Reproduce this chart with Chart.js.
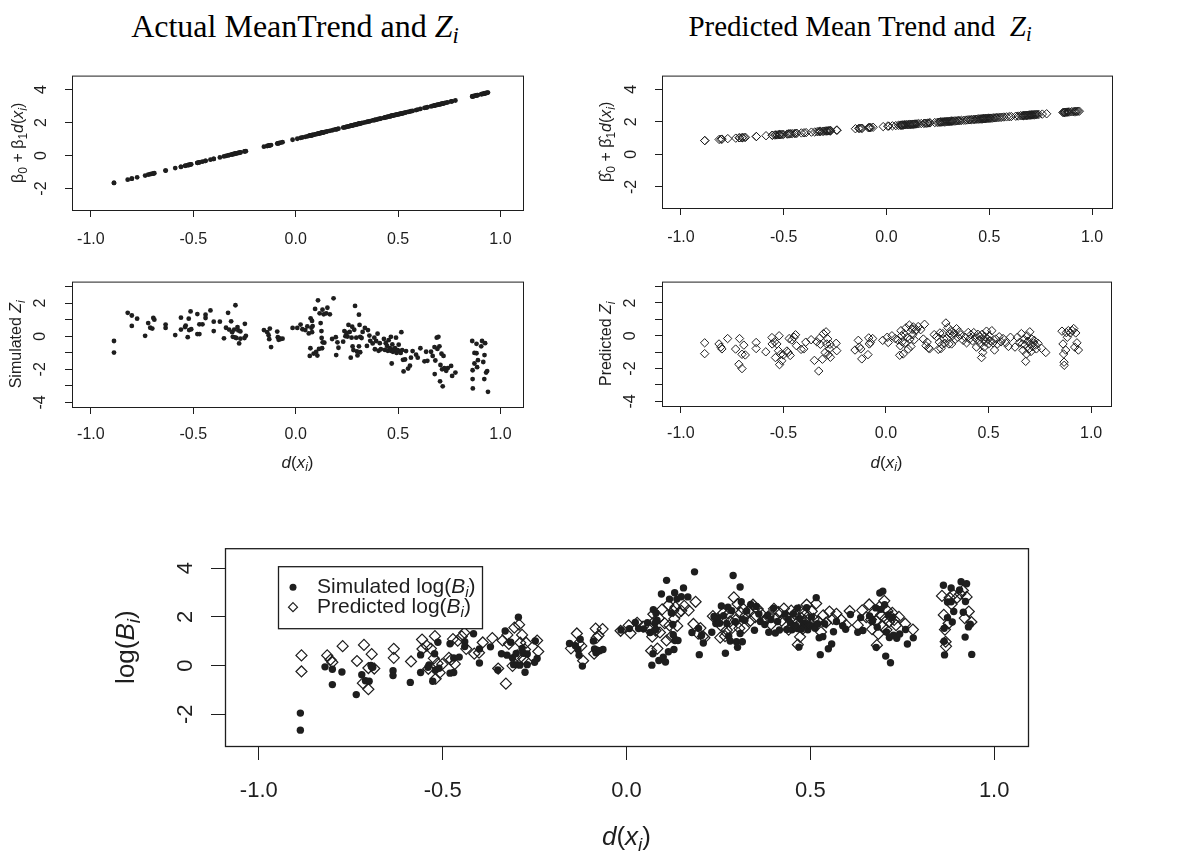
<!DOCTYPE html>
<html>
<head>
<meta charset="utf-8">
<script src="https://cdn.jsdelivr.net/npm/chart.js@4.4.0/dist/chart.umd.min.js"></script>
<style>
  body { margin: 0; background: #fff; width: 1178px; height: 857px; position: relative; overflow: hidden; }
  canvas { position: absolute; }
  .ttl { position: absolute; font-family: "Liberation Serif", "Times New Roman", serif; color: #000;
         white-space: nowrap; line-height: 34px; transform: translateX(-50%); }
  .ttl sub { font-size: 0.7em; vertical-align: -0.25em; line-height: 0; }
</style>
</head>
<body>
<div class="ttl" style="left:295px;top:9px;font-size:32px">Actual MeanTrend and <i>Z<sub>i</sub></i></div>
<div class="ttl" style="left:860px;top:9px;font-size:29px">Predicted Mean Trend and &nbsp;<i>Z<sub>i</sub></i></div>

<canvas id="p1" width="590" height="210" style="left:0;top:50px"></canvas>
<canvas id="p2" width="588" height="210" style="left:590px;top:50px"></canvas>
<canvas id="p3" width="590" height="225" style="left:0;top:255px"></canvas>
<canvas id="p4" width="588" height="225" style="left:590px;top:255px"></canvas>
<canvas id="p5" width="1000" height="337" style="left:90px;top:520px"></canvas>

<script>
// tick positions
const xTickVals = [-1, -0.5, 0, 0.5, 1];
const yTicksTop = [-2, 0, 2, 4];
const yTicksMid = [-4, -3, -2, -1, 0, 1, 2, 3];
const yLabelsMid = [-4, -2, 0, 2];

// d(x_i) of the simulated points, with the simulated Z_i, the true mean trend and log(B_i)
const xSim = [
  -0.887,-0.887,-0.82,-0.80,-0.80,-0.774,-0.735,-0.72,-0.71,-0.70,
  -0.695,-0.69,-0.635,-0.635,-0.588,-0.56,-0.56,-0.54,-0.537,-0.527,
  -0.522,-0.52,-0.513,-0.51,-0.48,-0.48,-0.47,-0.47,-0.455,-0.44,
  -0.44,-0.416,-0.40,-0.40,-0.37,-0.35,-0.34,-0.33,-0.325,-0.315,
  -0.31,-0.307,-0.30,-0.297,-0.294,-0.29,-0.284,-0.28,-0.276,-0.27,
  -0.27,-0.25,-0.248,-0.243,-0.155,-0.139,-0.132,-0.129,-0.126,-0.12,
  -0.09,-0.087,-0.083,-0.08,-0.073,-0.064,-0.015,0.008,0.024,0.033,
  0.047,0.057,0.064,0.069,0.072,0.073,0.077,0.08,0.08,0.083,
  0.088,0.095,0.10,0.106,0.109,0.114,0.117,0.122,0.126,0.127,
  0.129,0.131,0.132,0.137,0.14,0.149,0.155,0.167,0.178,0.185,
  0.196,0.198,0.204,0.209,0.232,0.238,0.243,0.248,0.253,0.258,
  0.264,0.269,0.273,0.276,0.278,0.282,0.286,0.29,0.296,0.299,
  0.302,0.309,0.309,0.312,0.315,0.315,0.322,0.327,0.338,0.348,
  0.353,0.36,0.364,0.376,0.384,0.387,0.393,0.40,0.405,0.411,
  0.416,0.431,0.436,0.44,0.446,0.45,0.454,0.46,0.465,0.465,
  0.469,0.472,0.475,0.48,0.485,0.49,0.493,0.498,0.503,0.508,
  0.513,0.516,0.52,0.524,0.527,0.534,0.539,0.549,0.558,0.563,
  0.571,0.588,0.596,0.609,0.629,0.637,0.643,0.661,0.669,0.678,
  0.679,0.682,0.689,0.692,0.697,0.702,0.705,0.707,0.712,0.715,
  0.718,0.722,0.726,0.735,0.743,0.759,0.764,0.78,0.862,0.864,
  0.864,0.865,0.873,0.873,0.883,0.883,0.886,0.89,0.906,0.91,
  0.916,0.921,0.922,0.925,0.93,0.935,0.939
];
const zSim = [
  -0.29,-0.99,1.41,1.25,0.62,1.06,0.02,0.79,0.51,0.46,
  1.10,1.0,0.70,0.50,0.07,1.12,0.40,0.55,0.64,-0.06,
  1.06,0.37,1.50,0.42,1.34,0.13,0.13,0.72,0.72,1.30,
  1.10,1.56,0.88,0.31,0.88,-0.13,0.51,1.41,0.40,0.90,
  0.24,-0.04,0.40,-0.07,1.87,-0.11,0.55,0.35,-0.44,-0.15,
  0.29,-0.11,0.75,0.02,0.37,0.24,0.06,-0.18,0.46,-0.66,
  0.28,-0.06,-0.22,-0.13,-0.17,-0.15,0.50,0.50,0.70,0.42,
  0.37,0.59,0.17,-1.19,-0.73,1.08,0.51,0.24,0.92,0.61,
  -1.05,1.65,-0.95,-1.17,2.17,-0.77,1.38,0.79,0.31,-0.11,
  -0.73,1.60,-0.37,1.32,-0.39,1.38,1.72,1.32,-0.17,2.29,
  -0.06,-1.14,-0.37,-0.70,-0.33,0.31,0.0,0.20,-0.02,0.68,
  0.26,-1.30,-0.09,0.57,-0.62,-0.84,0.39,1.83,-0.09,-0.92,
  -1.16,-0.61,1.30,0.68,-0.04,-0.97,-0.11,0.26,0.50,-0.59,
  0.37,0.04,-0.28,-0.44,-0.09,-0.79,-0.29,0.15,-0.88,-0.42,
  -0.79,-0.17,-0.83,-0.42,-0.59,-0.88,-0.24,-0.73,-0.88,-0.04,
  -1.65,-0.50,-0.94,-0.79,-0.73,-0.09,-1.01,-0.84,-0.51,-0.90,
  -1.01,0.24,-0.84,-1.43,-2.13,-1.41,-0.90,-1.96,-1.78,-1.30,
  -0.90,-1.12,-1.30,-0.73,-1.52,-0.94,-1.49,-0.94,-1.19,-0.66,
  -2.29,-1.47,-0.09,-0.77,-0.04,-0.61,-2.73,-1.74,-1.06,-2.0,
  -3.03,-1.19,-1.93,-2.09,-1.93,-1.80,-2.40,-2.20,-0.29,-2.06,
  -2.59,-3.16,-1.01,-1.65,-1.03,-0.46,-1.87,-1.45,-0.61,-0.29,
  -1.56,-2.59,-1.14,-0.42,-2.20,-2.11,-3.36
];
const meanTrue = [
  -1.66,-1.66,-1.46,-1.40,-1.40,-1.32,-1.21,-1.16,-1.13,-1.10,
  -1.09,-1.07,-0.91,-0.91,-0.76,-0.68,-0.68,-0.62,-0.61,-0.58,
  -0.57,-0.56,-0.54,-0.53,-0.44,-0.44,-0.41,-0.41,-0.37,-0.32,
  -0.32,-0.25,-0.20,-0.20,-0.11,-0.05,-0.02,0.01,0.03,0.06,
  0.07,0.08,0.10,0.11,0.12,0.13,0.15,0.16,0.17,0.19,
  0.19,0.25,0.26,0.27,0.54,0.58,0.60,0.61,0.62,0.64,
  0.73,0.74,0.75,0.76,0.78,0.81,0.96,1.02,1.07,1.10,
  1.14,1.17,1.19,1.21,1.22,1.22,1.23,1.24,1.24,1.25,
  1.26,1.29,1.30,1.32,1.33,1.34,1.35,1.37,1.38,1.38,
  1.39,1.39,1.40,1.41,1.42,1.45,1.47,1.50,1.53,1.56,
  1.59,1.59,1.61,1.63,1.70,1.71,1.73,1.74,1.76,1.77,
  1.79,1.81,1.82,1.83,1.83,1.85,1.86,1.87,1.89,1.90,
  1.91,1.93,1.93,1.94,1.95,1.95,1.97,1.98,2.01,2.04,
  2.06,2.08,2.09,2.13,2.15,2.16,2.18,2.20,2.22,2.23,
  2.25,2.29,2.31,2.32,2.34,2.35,2.36,2.38,2.40,2.40,
  2.41,2.42,2.43,2.44,2.46,2.47,2.48,2.49,2.51,2.52,
  2.54,2.55,2.56,2.57,2.58,2.60,2.62,2.65,2.67,2.69,
  2.71,2.76,2.79,2.83,2.89,2.91,2.93,2.98,3.01,3.03,
  3.04,3.05,3.07,3.08,3.09,3.11,3.12,3.12,3.14,3.15,
  3.15,3.17,3.18,3.21,3.23,3.28,3.29,3.34,3.59,3.59,
  3.59,3.60,3.62,3.62,3.65,3.65,3.66,3.67,3.72,3.73,
  3.75,3.76,3.77,3.78,3.79,3.81,3.82
];
const logBSim = [
  -1.95,-2.65,-0.05,-0.15,-0.78,-0.26,-1.19,-0.37,-0.62,-0.64,
  0.01,-0.07,-0.21,-0.41,-0.69,0.44,-0.28,-0.07,0.03,-0.64,
  0.49,-0.19,0.96,-0.11,0.90,-0.31,-0.28,0.31,0.35,0.98,
  0.78,1.31,0.68,0.11,0.77,-0.18,0.49,1.42,0.43,0.96,
  0.31,0.04,0.50,0.04,1.99,0.02,0.70,0.51,-0.27,0.04,
  0.48,0.14,1.01,0.29,0.91,0.82,0.66,0.43,1.08,-0.02,
  1.01,0.68,0.53,0.63,0.61,0.66,1.46,1.52,1.77,1.52,
  1.51,1.76,1.36,0.02,0.49,2.30,1.74,1.48,2.16,1.86,
  0.21,2.94,0.35,0.15,3.50,0.57,2.73,2.16,1.69,1.27,
  0.66,2.99,1.03,2.73,1.03,2.83,3.19,2.82,1.36,3.85,
  1.53,0.45,1.24,0.93,1.37,2.02,1.73,1.94,1.74,2.45,
  2.05,0.51,1.73,2.40,1.21,1.01,2.25,3.70,1.80,0.98,
  0.75,1.32,3.23,2.62,1.91,0.98,1.86,2.24,2.51,1.45,
  2.43,2.12,1.81,1.69,2.06,1.37,1.89,2.35,1.34,1.81,
  1.46,2.12,1.48,1.90,1.75,1.47,2.12,1.65,1.52,2.36,
  0.76,1.92,1.49,1.65,1.73,2.38,1.47,1.65,2.00,1.62,
  1.53,2.79,1.72,1.14,0.45,1.19,1.72,0.69,0.89,1.39,
  1.81,1.64,1.49,2.10,1.37,1.97,1.44,2.04,1.82,2.37,
  0.75,1.58,2.98,2.31,3.05,2.50,0.39,1.38,2.08,1.15,
  0.12,1.98,1.25,1.12,1.30,1.48,0.89,1.14,3.30,1.53,
  1.00,0.44,2.61,1.97,2.62,3.19,1.79,2.22,3.11,3.44,
  2.19,1.17,2.63,3.36,1.59,1.70,0.46
];

// d(x_i) of the predicted points, with the predicted Z_i, the fitted mean trend and log(B_i)
const xPred = [
  -0.884,-0.884,-0.814,-0.805,-0.80,-0.772,-0.733,-0.717,-0.714,-0.702,
  -0.702,-0.693,-0.686,-0.633,-0.633,-0.586,-0.556,-0.555,-0.543,-0.539,
  -0.532,-0.524,-0.521,-0.519,-0.514,-0.508,-0.501,-0.483,-0.477,-0.472,
  -0.467,-0.459,-0.448,-0.441,-0.436,-0.414,-0.401,-0.391,-0.365,-0.349,
  -0.337,-0.328,-0.324,-0.32,-0.31,-0.305,-0.297,-0.292,-0.289,-0.284,
  -0.281,-0.276,-0.273,-0.271,-0.243,-0.24,-0.151,-0.135,-0.13,-0.123,
  -0.118,-0.088,-0.084,-0.081,-0.076,-0.065,-0.016,0.006,0.011,0.029,
  0.045,0.058,0.067,0.07,0.073,0.076,0.079,0.084,0.088,0.091,
  0.097,0.104,0.109,0.114,0.117,0.122,0.127,0.13,0.133,0.138,
  0.143,0.149,0.157,0.169,0.182,0.188,0.195,0.201,0.208,0.212,
  0.235,0.247,0.255,0.26,0.263,0.268,0.273,0.277,0.282,0.287,
  0.292,0.297,0.302,0.307,0.311,0.316,0.32,0.324,0.331,0.337,
  0.344,0.35,0.357,0.365,0.376,0.386,0.393,0.401,0.407,0.414,
  0.422,0.428,0.435,0.441,0.448,0.453,0.457,0.461,0.466,0.469,
  0.472,0.475,0.479,0.482,0.485,0.49,0.495,0.50,0.504,0.509,
  0.516,0.522,0.529,0.535,0.543,0.552,0.561,0.571,0.584,0.597,
  0.607,0.629,0.641,0.652,0.66,0.665,0.668,0.673,0.678,0.681,
  0.685,0.688,0.693,0.697,0.701,0.704,0.707,0.71,0.714,0.719,
  0.723,0.728,0.733,0.741,0.758,0.779,0.858,0.863,0.866,0.868,
  0.869,0.876,0.879,0.884,0.889,0.899,0.908,0.915,0.92,0.925,
  0.931,0.938
];
const zPred = [
  -0.43,-1.09,-0.50,-0.69,-0.80,-0.17,-0.81,-1.74,-0.17,-2.0,
  -1.13,-0.57,-1.17,-0.41,-0.78,-0.98,-0.11,-0.50,-0.37,-1.33,
  -0.50,-0.91,0.0,-1.76,-1.13,-1.52,-1.17,-0.93,-1.02,-0.17,
  -1.20,-0.26,-0.09,0.06,-0.61,-0.83,-0.80,-0.39,-0.24,-1.50,
  -0.37,-2.15,-0.15,-0.52,-1.43,0.13,-1.02,0.24,-0.50,-0.19,
  -1.15,-0.80,-0.52,-1.31,-0.46,-0.91,-0.87,-0.28,-0.69,-0.80,
  -1.41,-1.15,-0.13,-0.50,-0.41,-0.17,-0.28,-0.09,-0.41,0.0,
  -0.17,-0.26,-1.19,-0.61,0.31,0.0,-0.37,-1.11,0.13,-0.46,
  0.48,-0.09,-0.81,0.65,-0.20,-0.65,0.39,0.06,0.54,-0.24,
  0.31,0.37,0.56,0.37,-0.20,0.70,-0.61,-0.39,-0.74,-0.80,
  0.07,-0.06,-0.83,-0.39,0.17,-0.78,-0.54,0.13,-0.19,-0.46,
  0.78,-0.15,0.50,-0.50,0.13,0.31,-0.50,0.0,0.17,-0.22,
  0.43,-0.09,0.24,0.06,-0.28,-0.09,-0.43,0.20,-0.20,0.06,
  -0.31,0.19,-0.13,-0.69,0.09,-0.28,-0.06,-0.50,-1.33,0.09,
  -1.02,-0.24,-0.69,-0.06,-0.37,0.28,-0.19,-0.50,0.0,-0.31,
  0.31,-0.43,-0.87,-0.20,-0.50,-0.06,-0.37,-0.17,-0.43,-0.65,
  -0.09,-0.69,-0.09,-0.39,0.13,-0.50,-0.89,-0.22,-0.56,-1.56,
  -1.11,0.0,-0.33,-0.80,0.24,-0.50,-0.96,-0.19,-0.65,-0.43,
  -0.28,-0.57,-0.80,-0.46,-0.76,-1.02,0.28,-0.50,-1.11,-1.61,
  -1.80,-0.87,0.19,-0.09,0.31,0.17,0.31,0.44,-0.69,0.17,
  -0.43,-0.87
];
const meanPred = [
  0.85,0.85,0.92,0.93,0.94,0.97,1.00,1.02,1.02,1.03,
  1.03,1.04,1.05,1.10,1.10,1.15,1.18,1.18,1.19,1.20,
  1.20,1.21,1.21,1.22,1.22,1.23,1.23,1.25,1.26,1.26,
  1.27,1.28,1.29,1.29,1.30,1.32,1.33,1.34,1.37,1.38,
  1.40,1.41,1.41,1.41,1.42,1.43,1.44,1.44,1.44,1.45,
  1.45,1.46,1.46,1.46,1.49,1.49,1.58,1.60,1.60,1.61,
  1.61,1.64,1.65,1.65,1.65,1.67,1.71,1.74,1.74,1.76,
  1.77,1.79,1.80,1.80,1.80,1.81,1.81,1.81,1.82,1.82,
  1.83,1.83,1.84,1.84,1.85,1.85,1.86,1.86,1.86,1.87,
  1.87,1.88,1.89,1.90,1.91,1.92,1.92,1.93,1.94,1.94,
  1.96,1.97,1.98,1.99,1.99,1.99,2.00,2.00,2.01,2.01,
  2.02,2.02,2.03,2.03,2.04,2.04,2.05,2.05,2.06,2.06,
  2.07,2.08,2.08,2.09,2.10,2.11,2.12,2.13,2.13,2.14,
  2.15,2.15,2.16,2.17,2.17,2.18,2.18,2.19,2.19,2.19,
  2.20,2.20,2.20,2.21,2.21,2.22,2.22,2.23,2.23,2.23,
  2.24,2.25,2.25,2.26,2.27,2.28,2.29,2.30,2.31,2.32,
  2.33,2.35,2.36,2.38,2.38,2.39,2.39,2.40,2.40,2.40,
  2.41,2.41,2.42,2.42,2.42,2.43,2.43,2.43,2.44,2.44,
  2.45,2.45,2.46,2.46,2.48,2.50,2.58,2.58,2.59,2.59,
  2.59,2.60,2.60,2.61,2.61,2.62,2.63,2.64,2.64,2.65,
  2.65,2.66
];
const logBPred = [
  0.42,-0.24,0.42,0.24,0.14,0.80,0.19,-0.72,0.85,-0.97,
  -0.10,0.47,-0.12,0.69,0.32,0.17,1.07,0.68,0.82,-0.13,
  0.70,0.30,1.21,-0.54,0.09,-0.29,0.06,0.32,0.24,1.09,
  0.07,1.02,1.20,1.35,0.69,0.49,0.53,0.95,1.13,-0.12,
  1.03,-0.74,1.26,0.89,-0.01,1.56,0.42,1.68,0.94,1.26,
  0.30,0.66,0.94,0.15,1.03,0.58,0.71,1.32,0.91,0.81,
  0.20,0.49,1.52,1.15,1.24,1.50,1.43,1.65,1.33,1.76,
  1.60,1.53,0.61,1.19,2.11,1.81,1.44,0.70,1.95,1.36,
  2.31,1.74,1.03,2.49,1.65,1.20,2.25,1.92,2.40,1.63,
  2.18,2.25,2.45,2.27,1.71,2.62,1.31,1.54,1.20,1.14,
  2.03,1.91,1.15,1.60,2.16,1.21,1.46,2.13,1.82,1.55,
  2.80,1.87,2.53,1.53,2.17,2.35,1.55,2.05,2.23,1.84,
  2.50,1.99,2.32,2.15,1.82,2.02,1.69,2.33,1.93,2.20,
  1.84,2.34,2.03,1.48,2.26,1.90,2.12,1.69,0.86,2.28,
  1.18,1.96,1.51,2.15,1.84,2.50,2.03,1.73,2.23,1.92,
  2.55,1.82,1.38,2.06,1.77,2.22,1.92,2.13,1.88,1.67,
  2.24,1.66,2.27,1.99,2.51,1.89,1.50,2.18,1.84,0.84,
  1.30,2.41,2.09,1.62,2.66,1.93,1.47,2.24,1.79,2.01,
  2.17,1.88,1.66,2.00,1.72,1.48,2.86,2.08,1.48,0.98,
  0.79,1.73,2.79,2.52,2.92,2.79,2.94,3.08,1.95,2.82,
  2.22,1.79
];

const FONT = '"Liberation Sans", "DejaVu Sans", Arial, sans-serif';
const INK = '#1e1e1e';

function pts(xs, ys) {
  return xs.map((x, i) => ({ x: x, y: ys[i] }));
}

// text with italic parts and subscripts, the way R's plotmath sets it
function partFont(p, size) {
  const s = p.sub ? Math.round(size * 0.72) : size;
  return (p.it ? 'italic ' : '') + s + 'px ' + FONT;
}
function richWidth(ctx, parts, size) {
  let w = 0;
  parts.forEach(p => { ctx.font = partFont(p, size); w += ctx.measureText(p.t).width; });
  return w;
}
function drawRich(ctx, parts, x, y, size, rot, align) {
  ctx.save();
  ctx.translate(x, y);
  ctx.rotate(rot);
  ctx.textBaseline = 'middle';
  ctx.textAlign = 'left';
  ctx.fillStyle = INK;
  let cx = align === 'left' ? 0 : -richWidth(ctx, parts, size) / 2;
  parts.forEach(p => {
    ctx.font = partFont(p, size);
    ctx.fillText(p.t, cx, p.sub ? size * 0.28 : 0);
    cx += ctx.measureText(p.t).width;
  });
  ctx.restore();
}

const dxParts = [{ t: 'd', it: true }, { t: '(' }, { t: 'x', it: true }, { t: 'i', it: true, sub: true }, { t: ')' }];

// frame round the plotting region
const boxPlugin = {
  id: 'frame',
  afterDraw(chart, args, o) {
    const a = chart.chartArea, c = chart.ctx;
    c.save();
    c.strokeStyle = INK;
    c.lineWidth = o.width || 1;
    c.strokeRect(a.left + 0.5, a.top + 0.5, a.right - a.left, a.bottom - a.top);
    c.restore();
  }
};

const richPlugin = {
  id: 'rich',
  afterDraw(chart, args, o) {
    const a = chart.chartArea;
    if (o.y) drawRich(chart.ctx, o.y, o.yX, (a.top + a.bottom) / 2, o.ySize, -Math.PI / 2);
    if (o.x) drawRich(chart.ctx, o.x, (a.left + a.right) / 2, chart.height - o.xB, o.xSize, 0);
  }
};

const legendPlugin = {
  id: 'boxLegend',
  afterDraw(chart, args, o) {
    if (!o.items) return;
    const c = chart.ctx, a = chart.chartArea;
    const L = a.left + o.dx, T = a.top + o.dy;
    c.save();
    c.fillStyle = '#fff';
    c.fillRect(L, T, o.w, o.h);
    c.strokeStyle = INK;
    c.lineWidth = 1.3;
    c.strokeRect(L + 0.5, T + 0.5, o.w, o.h);
    o.items.forEach((it, i) => {
      const y = T + o.row0 + i * o.rowH, sx = L + o.symX;
      c.beginPath();
      if (it.style === 'circle') {
        c.arc(sx, y, it.r, 0, Math.PI * 2);
        c.fillStyle = INK;
        c.fill();
      } else {
        c.moveTo(sx, y - it.r); c.lineTo(sx + it.r, y); c.lineTo(sx, y + it.r); c.lineTo(sx - it.r, y);
        c.closePath();
        c.lineWidth = 1.2;
        c.stroke();
      }
      drawRich(c, it.parts, L + o.textX, y, o.size, 0, 'left');
    });
    c.restore();
  }
};

function dots(data, r, label) {
  return { label: label, data: data, pointStyle: 'circle', pointRadius: r, pointBackgroundColor: INK,
           pointBorderWidth: 0, order: 1 };
}
function diamonds(data, r, fill, label, bw) {
  return { label: label, data: data, pointStyle: 'rectRot', pointRadius: r, pointBackgroundColor: fill,
           pointBorderColor: INK, pointBorderWidth: bw || 1, order: 0 };
}

function panel(id, p) {
  const tickGrid = { drawOnChartArea: false, drawTicks: true, tickLength: p.tick, color: INK, lineWidth: 1 };
  new Chart(document.getElementById(id), {
    type: 'scatter',
    data: { datasets: p.datasets },
    options: {
      responsive: false,
      animation: false,
      events: [],
      layout: { padding: p.pad },
      plugins: {
        legend: { display: false },
        tooltip: { enabled: false },
        frame: { width: p.frame || 1 },
        rich: p.rich,
        boxLegend: p.legend || {}
      },
      scales: {
        x: {
          type: 'linear', min: p.xMin, max: p.xMax,
          afterBuildTicks: s => { s.ticks = xTickVals.map(v => ({ value: v })); },
          afterFit: s => { s.height = p.xH; },
          grid: tickGrid,
          border: { display: false },
          ticks: { autoSkip: false, maxRotation: 0, minRotation: 0, padding: p.xPad, color: INK,
                   font: { family: FONT, size: p.font }, callback: v => v.toFixed(1) }
        },
        y: {
          type: 'linear', min: p.yMin, max: p.yMax,
          afterBuildTicks: s => { s.ticks = p.yTicks.map(v => ({ value: v })); },
          afterFit: s => { s.width = p.yW; },
          grid: tickGrid,
          border: { display: false },
          ticks: { autoSkip: false, minRotation: 90, maxRotation: 90, crossAlign: 'center', padding: p.yPad,
                   color: INK, font: { family: FONT, size: p.font },
                   callback: v => p.yLabels.includes(v) ? String(v) : '' }
        }
      }
    },
    plugins: [boxPlugin, richPlugin, legendPlugin]
  });
}

panel('p1', {
  pad: { left: 0, top: 20, right: 67, bottom: 0 }, yW: 72, xH: 50,
  xMin: -1.092, xMax: 1.11, yMin: -3.3, yMax: 4.85, yTicks: yTicksTop, yLabels: yTicksTop,
  font: 16, tick: 7, xPad: 13, yPad: 16,
  rich: { y: [{ t: 'β' }, { t: '0', sub: true }, { t: ' + β' }, { t: '1', sub: true }, { t: 'd', it: true }, { t: '(' },
              { t: 'x', it: true }, { t: 'i', it: true, sub: true }, { t: ')' }], yX: 19, ySize: 16 },
  datasets: [dots(pts(xSim, meanTrue), 2.4, 'mean trend')]
});
panel('p2', {
  pad: { left: 0, top: 19, right: 66, bottom: 0 }, yW: 72, xH: 52,
  xMin: -1.092, xMax: 1.097, yMin: -3.3, yMax: 4.85, yTicks: yTicksTop, yLabels: yTicksTop,
  font: 16, tick: 7, xPad: 13, yPad: 16,
  rich: { y: [{ t: 'β\u0302' }, { t: '0', sub: true }, { t: ' + β\u0302' }, { t: '1', sub: true }, { t: 'd', it: true },
              { t: '(' }, { t: 'x', it: true }, { t: 'i', it: true, sub: true }, { t: ')' }], yX: 17, ySize: 16 },
  datasets: [diamonds(pts(xPred, meanPred), 4.2, 'rgba(0,0,0,0)', 'predicted mean trend')]
});
panel('p3', {
  pad: { left: 0, top: 13, right: 67, bottom: 0 }, yW: 72, xH: 73,
  xMin: -1.092, xMax: 1.11, yMin: -4.28, yMax: 3.3, yTicks: yTicksMid, yLabels: yLabelsMid,
  font: 16, tick: 7, xPad: 11, yPad: 17,
  rich: { y: [{ t: 'Simulated ' }, { t: 'Z', it: true }, { t: 'i', it: true, sub: true }], yX: 17, ySize: 16,
          x: dxParts, xB: 17, xSize: 17 },
  datasets: [dots(pts(xSim, zSim), 2.4, 'Simulated Z')]
});
panel('p4', {
  pad: { left: 0, top: 13, right: 67, bottom: 0 }, yW: 72, xH: 74,
  xMin: -1.092, xMax: 1.097, yMin: -4.28, yMax: 3.3, yTicks: yTicksMid, yLabels: yLabelsMid,
  font: 16, tick: 7, xPad: 11, yPad: 17,
  rich: { y: [{ t: 'Predicted ' }, { t: 'Z', it: true }, { t: 'i', it: true, sub: true }], yX: 17, ySize: 16,
          x: dxParts, xB: 17, xSize: 17 },
  datasets: [diamonds(pts(xPred, zPred), 4.2, 'rgba(0,0,0,0)', 'Predicted Z')]
});
panel('p5', {
  pad: { left: 0, top: 19, right: 62, bottom: 0 }, yW: 135, xH: 111, frame: 1.3,
  xMin: -1.092, xMax: 1.092, yMin: -3.3, yMax: 4.82, yTicks: yTicksTop, yLabels: yTicksTop,
  font: 22, tick: 14, xPad: 18, yPad: 15,
  rich: { y: [{ t: 'log(' }, { t: 'B', it: true }, { t: 'i', it: true, sub: true }, { t: ')' }], yX: 37, ySize: 26,
          x: dxParts, xB: 19, xSize: 26 },
  legend: {
    dx: 53, dy: 18, w: 204, h: 62, symX: 15, textX: 39, row0: 21, rowH: 20, size: 21,
    items: [
      { style: 'circle', r: 3.5, parts: [{ t: 'Simulated log(' }, { t: 'B', it: true }, { t: 'i', it: true, sub: true }, { t: ')' }] },
      { style: 'diamond', r: 4.5, parts: [{ t: 'Predicted log(' }, { t: 'B', it: true }, { t: 'i', it: true, sub: true }, { t: ')' }] }
    ]
  },
  datasets: [
    dots(pts(xSim, logBSim), 3.7, 'Simulated log(B)'),
    diamonds(pts(xPred, logBPred), 5.5, 'rgba(0,0,0,0)', 'Predicted log(B)', 1.2)
  ]
});
</script>
</body>
</html>
